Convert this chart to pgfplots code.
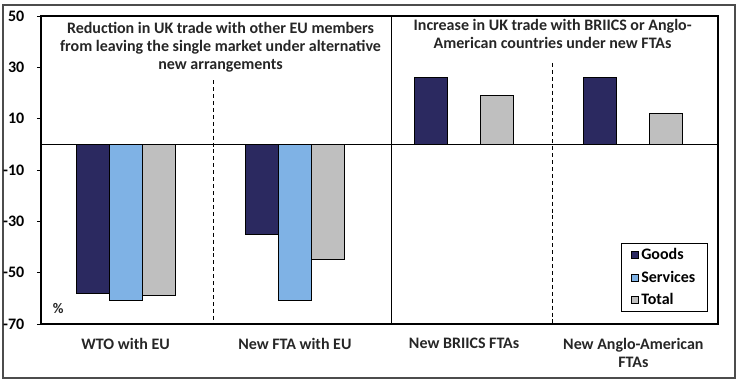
\documentclass[border=0pt]{standalone}
\usepackage{pgfplots}
\pgfplotsset{compat=1.18}
\usepackage{fontspec}
\setmainfont{Carlito}
\definecolor{goods}{HTML}{2B2960}
\definecolor{services}{HTML}{7FB2E5}
\definecolor{total}{HTML}{BFBFBF}
\definecolor{txt}{HTML}{262626}
\begin{document}
\begin{tikzpicture}
\path[use as bounding box] (0pt,0pt) rectangle (559.5pt,-288pt);
\draw[line width=1.1pt, black!70] (2.25pt,-3.75pt) rectangle (551.25pt,-283.5pt);
\begin{axis}[
  at={(30.75pt,-243pt)}, anchor=south west,
  scale only axis, width=507.75pt, height=231pt,
  xmin=-0.5, xmax=3.5, ymin=-70, ymax=50,
  ybar=0pt, bar width=24.75pt,
  ytick={-70,-50,-30,-10,10,30,50},
  ytick pos=left, tick align=outside, major tick length=3pt,
  y tick style={black, line width=0.6pt},
  xtick={0,1,2,3}, x tick style={draw=none},
  xticklabels={WTO with EU, New FTA with EU, New BRIICS FTAs, {New Anglo-American\\FTAs}},
  xticklabel style={align=center, text=txt, font=\bfseries\fontsize{12}{13.5}\selectfont, yshift=-4pt},
  yticklabel style={text=black, font=\bfseries\fontsize{12}{13.5}\selectfont, xshift=-6pt},
  /pgf/number format/assume math mode=true,
  axis line style={black, line width=0.8pt},
  legend style={at={(rel axis cs:0.985,0.039)}, anchor=south east, draw=black, line width=0.7pt,
    font=\bfseries\fontsize{12}{13.5}\selectfont, row sep=3pt, inner xsep=7pt, inner ysep=1.5pt},
  legend cell align=left,
  legend image code/.code={\draw[#1,draw=black,line width=0.6pt] (0pt,-2.6pt) rectangle (5.2pt,2.6pt);},
  clip=false,
]
\addplot[fill=goods, draw=black, line width=0.7pt] coordinates {(0,-58) (1,-35) (2,26) (3,26)};
\addplot[fill=services, draw=black, line width=0.7pt] coordinates {(0,-61) (1,-61)};
\addplot[fill=total, draw=black, line width=0.7pt] coordinates {(0,-59) (1,-45) (2,19) (3,12)};
\legend{Goods, Services, Total}
\draw[black, line width=0.8pt] (axis cs:-0.5,0) -- (axis cs:3.5,0);
\draw[black, line width=0.8pt] (axis cs:1.573,50) -- (axis cs:1.573,-70);
\draw[black, line width=0.7pt, dash pattern=on 3pt off 2.2pt] (axis cs:0.52,25) -- (axis cs:0.52,-70);
\draw[black, line width=0.7pt, dash pattern=on 3pt off 2.2pt] (axis cs:2.52,31.7) -- (axis cs:2.52,-70);
\node[anchor=north, align=center, inner sep=0pt, text=txt, font=\bfseries\fontsize{12}{13.5}\selectfont] at (axis cs:0.561,47.5)
  {Reduction in UK trade with other EU members\\from leaving the single market under alternative\\new arrangements};
\node[anchor=north, align=center, inner sep=0pt, text=txt, font=\bfseries\fontsize{12}{13.5}\selectfont] at (axis cs:2.523,48.8)
  {Increase in UK trade with BRIICS or Anglo-\\American countries under new FTAs};
\node[anchor=center, inner sep=0pt, text=txt, font=\bfseries\fontsize{11}{12}\selectfont] at (axis cs:-0.398,-64) {\%};
\end{axis}
\end{tikzpicture}
\end{document}
